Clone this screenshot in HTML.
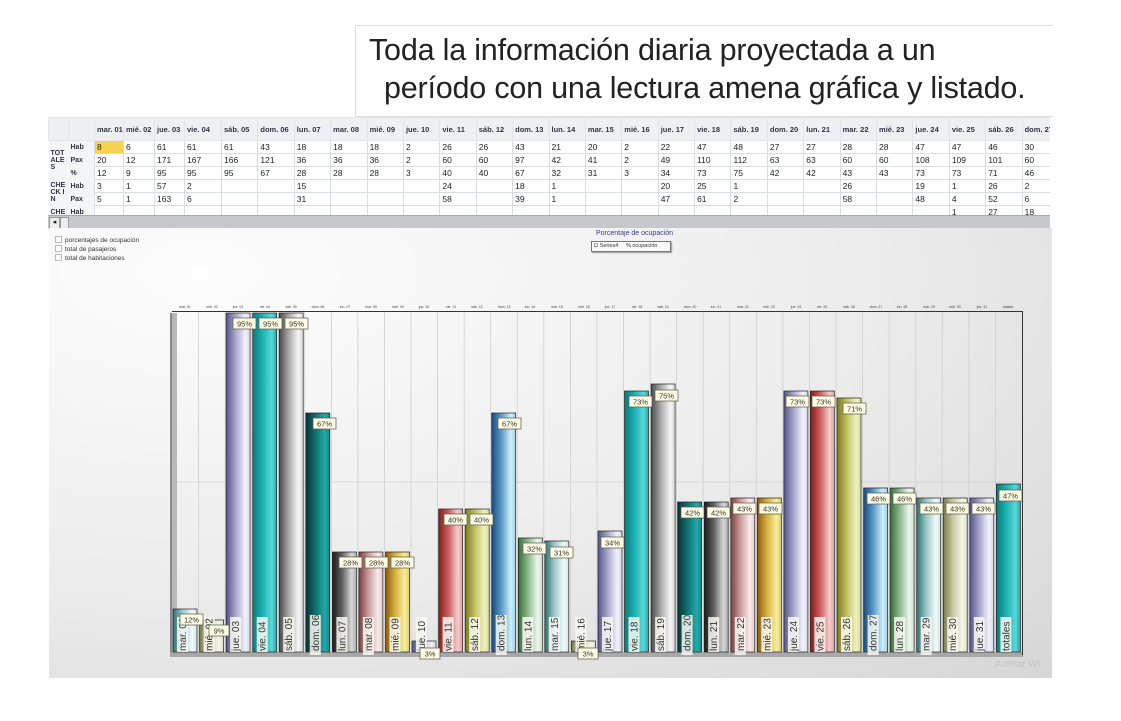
<!DOCTYPE html>
<html><head><meta charset="utf-8"><style>
body{margin:0;width:1121px;height:721px;background:#fff;position:relative;overflow:hidden;font-family:"Liberation Sans",sans-serif}
.hd{position:absolute;left:355px;top:25px;width:697px;height:90px;border:1px solid #ddd;border-right:none;background:#fff}
.hd div{position:absolute;font-family:"Liberation Sans",sans-serif;font-size:30.5px;color:#222;white-space:nowrap;letter-spacing:-0.2px}
.tb{position:absolute;left:48px;top:117px;width:1002px;height:98px;overflow:hidden;background:#fff}
table{border-collapse:collapse;table-layout:fixed;font-size:8.5px;color:#222;width:1010px}
td{border:1px solid #d8dde3;height:12px;padding:0 0 0 2px;white-space:nowrap;overflow:hidden}
tr.h td{height:22px;background:#eef0f4;font-weight:bold;font-size:7.5px;color:#334;border-color:#e2e5ea}
td.l{font-weight:bold;font-size:7px;color:#334;border:none;background:#f4f5f7;line-height:7px;white-space:normal;word-break:break-all}
.sb{position:absolute;left:48px;top:215px;width:1002px;height:13px;background:#c6c8cc;border-top:1px solid #aaa}
.pn{position:absolute;left:49px;top:228px;width:1003px;height:450px;background:radial-gradient(ellipse at 15% 10%,#fdfdfd 0%,#ececec 55%,#d6d6d6 100%)}
.ck{position:absolute;left:55px;font-size:6.5px;color:#333}
.ck i{display:inline-block;width:5px;height:5px;border:1px solid #bbb;background:#fff;margin-right:3px;vertical-align:-1px}
</style></head><body>
<div class="hd"><div style="left:13px;top:7px">Toda la información diaria proyectada a un</div><div style="left:28px;top:45px">período con una lectura amena gráfica y listado.</div></div>
<div class="tb"><table>
<colgroup><col style="width:20px"><col style="width:26px"><col style="width:29px"><col style="width:31px"><col style="width:30px"><col style="width:37px"><col span="23" style="width:36.4px"></colgroup>
<tr class="h"><td></td><td></td><td>mar. 01</td><td>mié. 02</td><td>jue. 03</td><td>vie. 04</td><td>sáb. 05</td><td>dom. 06</td><td>lun. 07</td><td>mar. 08</td><td>mié. 09</td><td>jue. 10</td><td>vie. 11</td><td>sáb. 12</td><td>dom. 13</td><td>lun. 14</td><td>mar. 15</td><td>mié. 16</td><td>jue. 17</td><td>vie. 18</td><td>sáb. 19</td><td>dom. 20</td><td>lun. 21</td><td>mar. 22</td><td>mié. 23</td><td>jue. 24</td><td>vie. 25</td><td>sáb. 26</td><td>dom. 27</td></tr>
<tr><td class="l" rowspan="3">TOT ALE S</td><td class="l">Hab</td><td style="background:#f7d250">8</td><td>6</td><td>61</td><td>61</td><td>61</td><td>43</td><td>18</td><td>18</td><td>18</td><td>2</td><td>26</td><td>26</td><td>43</td><td>21</td><td>20</td><td>2</td><td>22</td><td>47</td><td>48</td><td>27</td><td>27</td><td>28</td><td>28</td><td>47</td><td>47</td><td>46</td><td>30</td></tr>
<tr><td class="l">Pax</td><td>20</td><td>12</td><td>171</td><td>167</td><td>166</td><td>121</td><td>36</td><td>36</td><td>36</td><td>2</td><td>60</td><td>60</td><td>97</td><td>42</td><td>41</td><td>2</td><td>49</td><td>110</td><td>112</td><td>63</td><td>63</td><td>60</td><td>60</td><td>108</td><td>109</td><td>101</td><td>60</td></tr>
<tr><td class="l">%</td><td>12</td><td>9</td><td>95</td><td>95</td><td>95</td><td>67</td><td>28</td><td>28</td><td>28</td><td>3</td><td>40</td><td>40</td><td>67</td><td>32</td><td>31</td><td>3</td><td>34</td><td>73</td><td>75</td><td>42</td><td>42</td><td>43</td><td>43</td><td>73</td><td>73</td><td>71</td><td>46</td></tr>
<tr><td class="l" rowspan="2">CHE CK IN</td><td class="l">Hab</td><td>3</td><td>1</td><td>57</td><td>2</td><td></td><td></td><td>15</td><td></td><td></td><td></td><td>24</td><td></td><td>18</td><td>1</td><td></td><td></td><td>20</td><td>25</td><td>1</td><td></td><td></td><td>26</td><td></td><td>19</td><td>1</td><td>26</td><td>2</td></tr>
<tr><td class="l">Pax</td><td>5</td><td>1</td><td>163</td><td>6</td><td></td><td></td><td>31</td><td></td><td></td><td></td><td>58</td><td></td><td>39</td><td>1</td><td></td><td></td><td>47</td><td>61</td><td>2</td><td></td><td></td><td>58</td><td></td><td>48</td><td>4</td><td>52</td><td>6</td></tr>
<tr><td class="l">CHE</td><td class="l">Hab</td><td></td><td></td><td></td><td></td><td></td><td></td><td></td><td></td><td></td><td></td><td></td><td></td><td></td><td></td><td></td><td></td><td></td><td></td><td></td><td></td><td></td><td></td><td></td><td></td><td>1</td><td>27</td><td>18</td></tr>
</table></div>
<div class="sb"><span style="position:absolute;left:1px;top:1px;width:9px;height:10px;background:#eee;border:1px solid #999;font-size:7px;line-height:10px;text-align:center">◂</span><span style="position:absolute;left:12px;top:1px;width:7px;height:10px;background:#eee;border:1px solid #999"></span></div>
<div class="pn"></div>
<div class="ck" style="top:236px"><i></i>porcentajes de ocupación</div>
<div class="ck" style="top:245px"><i></i>total de pasajeros</div>
<div class="ck" style="top:254px"><i></i>total de habitaciones</div>
<div style="position:absolute;left:596px;top:230px;font-size:7px;color:#3a3a9a">Porcentaje de ocupación</div>
<div style="position:absolute;left:591px;top:241px;width:78px;height:9px;border:1px solid #777;background:#fafafa;font-size:5.5px;color:#333;line-height:9px;box-shadow:1px 1px 1px #999">&nbsp;⊡ Series4 &nbsp;&nbsp;&nbsp;&nbsp;% ocupación</div>
<svg style="position:absolute;left:0;top:0" width="1121" height="721">
<defs>
<linearGradient id="c0"><stop offset="0" stop-color="#2f6f70"/><stop offset=".4" stop-color="#9cc8c8"/><stop offset=".8" stop-color="#f2f9f9"/><stop offset="1" stop-color="#cfe6e6"/></linearGradient>
<linearGradient id="c1"><stop offset="0" stop-color="#7a7a50"/><stop offset=".4" stop-color="#c8c8a0"/><stop offset=".8" stop-color="#f6f6e6"/><stop offset="1" stop-color="#deded0"/></linearGradient>
<linearGradient id="c2"><stop offset="0" stop-color="#55558a"/><stop offset=".4" stop-color="#a6a6cc"/><stop offset=".8" stop-color="#f2f2fa"/><stop offset="1" stop-color="#d6d6ea"/></linearGradient>
<linearGradient id="c3"><stop offset="0" stop-color="#0a7a7a"/><stop offset=".4" stop-color="#1ab0b0"/><stop offset=".8" stop-color="#5ad8d8"/><stop offset="1" stop-color="#22a8a8"/></linearGradient>
<linearGradient id="c4"><stop offset="0" stop-color="#4a4a4a"/><stop offset=".4" stop-color="#a8a8a8"/><stop offset=".8" stop-color="#f6f6f6"/><stop offset="1" stop-color="#d6d6d6"/></linearGradient>
<linearGradient id="c5"><stop offset="0" stop-color="#0a3030"/><stop offset=".4" stop-color="#107070"/><stop offset=".8" stop-color="#22aaaa"/><stop offset="1" stop-color="#188888"/></linearGradient>
<linearGradient id="c6"><stop offset="0" stop-color="#1a1a1a"/><stop offset=".4" stop-color="#606060"/><stop offset=".8" stop-color="#d8d8d8"/><stop offset="1" stop-color="#aaaaaa"/></linearGradient>
<linearGradient id="c7"><stop offset="0" stop-color="#7a4040"/><stop offset=".4" stop-color="#cc9a9a"/><stop offset=".8" stop-color="#f8ecec"/><stop offset="1" stop-color="#e0c8c8"/></linearGradient>
<linearGradient id="c8"><stop offset="0" stop-color="#8a5a10"/><stop offset=".4" stop-color="#d8b040"/><stop offset=".8" stop-color="#f6ee9a"/><stop offset="1" stop-color="#e0cc70"/></linearGradient>
<linearGradient id="c9"><stop offset="0" stop-color="#8a1a1a"/><stop offset=".4" stop-color="#cc5a5a"/><stop offset=".8" stop-color="#f6cccc"/><stop offset="1" stop-color="#e0a0a0"/></linearGradient>
<linearGradient id="c10"><stop offset="0" stop-color="#7a7a20"/><stop offset=".4" stop-color="#c0c060"/><stop offset=".8" stop-color="#f0f0c0"/><stop offset="1" stop-color="#dada98"/></linearGradient>
<linearGradient id="c11"><stop offset="0" stop-color="#1a4a7a"/><stop offset=".4" stop-color="#5a9ac8"/><stop offset=".8" stop-color="#cdeefa"/><stop offset="1" stop-color="#9fd0e6"/></linearGradient>
<linearGradient id="c12"><stop offset="0" stop-color="#3a6a3a"/><stop offset=".4" stop-color="#8ab88a"/><stop offset=".8" stop-color="#eef6ee"/><stop offset="1" stop-color="#cfe3cf"/></linearGradient>
</defs>
<g stroke="#cfcfcf" stroke-width=".8">
<line x1="198.6" y1="312" x2="198.6" y2="652"/><line x1="225.1" y1="312" x2="225.1" y2="652"/><line x1="251.7" y1="312" x2="251.7" y2="652"/><line x1="278.2" y1="312" x2="278.2" y2="652"/><line x1="304.8" y1="312" x2="304.8" y2="652"/><line x1="331.4" y1="312" x2="331.4" y2="652"/><line x1="357.9" y1="312" x2="357.9" y2="652"/><line x1="384.5" y1="312" x2="384.5" y2="652"/><line x1="411" y1="312" x2="411" y2="652"/><line x1="437.6" y1="312" x2="437.6" y2="652"/><line x1="464.2" y1="312" x2="464.2" y2="652"/><line x1="490.7" y1="312" x2="490.7" y2="652"/><line x1="517.3" y1="312" x2="517.3" y2="652"/><line x1="543.8" y1="312" x2="543.8" y2="652"/><line x1="570.4" y1="312" x2="570.4" y2="652"/><line x1="597" y1="312" x2="597" y2="652"/><line x1="623.5" y1="312" x2="623.5" y2="652"/><line x1="650.1" y1="312" x2="650.1" y2="652"/><line x1="676.6" y1="312" x2="676.6" y2="652"/><line x1="703.2" y1="312" x2="703.2" y2="652"/><line x1="729.8" y1="312" x2="729.8" y2="652"/><line x1="756.3" y1="312" x2="756.3" y2="652"/><line x1="782.9" y1="312" x2="782.9" y2="652"/><line x1="809.4" y1="312" x2="809.4" y2="652"/><line x1="836" y1="312" x2="836" y2="652"/><line x1="862.6" y1="312" x2="862.6" y2="652"/><line x1="889.1" y1="312" x2="889.1" y2="652"/><line x1="915.7" y1="312" x2="915.7" y2="652"/><line x1="942.2" y1="312" x2="942.2" y2="652"/><line x1="968.8" y1="312" x2="968.8" y2="652"/><line x1="995.4" y1="312" x2="995.4" y2="652"/>
<line x1="177" y1="482" x2="1022" y2="482"/>
</g>
<rect x="170" y="313" width="7" height="342" fill="#b8b8b8"/><rect x="170" y="313" width="2" height="342" fill="#8a8a8a"/>
<rect x="170" y="652" width="853" height="5" fill="#a8a8a8"/>
<line x1="172" y1="311.5" x2="1023" y2="311.5" stroke="#333" stroke-width="1"/>
<line x1="1022.5" y1="311" x2="1022.5" y2="655" stroke="#333" stroke-width="1"/>
<g font-size="3.5" fill="#444" text-anchor="middle">
<text x="185" y="308">mar. 01</text><text x="212" y="308">mié. 02</text><text x="238" y="308">jue. 03</text><text x="265" y="308">vie. 04</text><text x="291" y="308">sáb. 05</text><text x="318" y="308">dom. 06</text><text x="345" y="308">lun. 07</text><text x="371" y="308">mar. 08</text><text x="398" y="308">mié. 09</text><text x="424" y="308">jue. 10</text><text x="451" y="308">vie. 11</text><text x="477" y="308">sáb. 12</text><text x="504" y="308">dom. 13</text><text x="530" y="308">lun. 14</text><text x="557" y="308">mar. 15</text><text x="584" y="308">mié. 16</text><text x="610" y="308">jue. 17</text><text x="637" y="308">vie. 18</text><text x="663" y="308">sáb. 19</text><text x="690" y="308">dom. 20</text><text x="716" y="308">lun. 21</text><text x="743" y="308">mar. 22</text><text x="769" y="308">mié. 23</text><text x="796" y="308">jue. 24</text><text x="822" y="308">vie. 25</text><text x="849" y="308">sáb. 26</text><text x="876" y="308">dom. 27</text><text x="902" y="308">lun. 28</text><text x="929" y="308">mar. 29</text><text x="955" y="308">mié. 30</text><text x="982" y="308">jue. 31</text><text x="1008" y="308">totales</text>
</g>
<g stroke="#222" stroke-width=".7">
<rect x="173" y="609" width="24" height="43" fill="url(#c0)"/>
<rect x="199.6" y="620" width="24" height="32" fill="url(#c1)"/>
<rect x="226.1" y="313" width="24" height="339" fill="url(#c2)"/>
<rect x="252.7" y="313" width="24" height="339" fill="url(#c3)"/>
<rect x="279.2" y="313" width="24" height="339" fill="url(#c4)"/>
<rect x="305.8" y="413" width="24" height="239" fill="url(#c5)"/>
<rect x="332.4" y="552" width="24" height="100" fill="url(#c6)"/>
<rect x="358.9" y="552" width="24" height="100" fill="url(#c7)"/>
<rect x="385.5" y="552" width="24" height="100" fill="url(#c8)"/>
<rect x="412" y="641" width="24" height="11" fill="url(#c2)"/>
<rect x="438.6" y="509" width="24" height="143" fill="url(#c9)"/>
<rect x="465.2" y="509" width="24" height="143" fill="url(#c10)"/>
<rect x="491.7" y="413" width="24" height="239" fill="url(#c11)"/>
<rect x="518.3" y="538" width="24" height="114" fill="url(#c12)"/>
<rect x="544.8" y="541" width="24" height="111" fill="url(#c0)"/>
<rect x="571.4" y="641" width="24" height="11" fill="url(#c1)"/>
<rect x="598" y="531" width="24" height="121" fill="url(#c2)"/>
<rect x="624.5" y="391" width="24" height="261" fill="url(#c3)"/>
<rect x="651.1" y="384" width="24" height="268" fill="url(#c4)"/>
<rect x="677.6" y="502" width="24" height="150" fill="url(#c5)"/>
<rect x="704.2" y="502" width="24" height="150" fill="url(#c6)"/>
<rect x="730.8" y="498" width="24" height="154" fill="url(#c7)"/>
<rect x="757.3" y="498" width="24" height="154" fill="url(#c8)"/>
<rect x="783.9" y="391" width="24" height="261" fill="url(#c2)"/>
<rect x="810.4" y="391" width="24" height="261" fill="url(#c9)"/>
<rect x="837" y="398" width="24" height="254" fill="url(#c10)"/>
<rect x="863.6" y="488" width="24" height="164" fill="url(#c11)"/>
<rect x="890.1" y="488" width="24" height="164" fill="url(#c12)"/>
<rect x="916.7" y="498" width="24" height="154" fill="url(#c0)"/>
<rect x="943.2" y="498" width="24" height="154" fill="url(#c1)"/>
<rect x="969.8" y="498" width="24" height="154" fill="url(#c2)"/>
<rect x="996.4" y="484" width="24" height="168" fill="url(#c3)"/>
</g>
<g fill="#fafaf2" opacity=".85">
<rect x="177" y="617" width="11" height="35"/><rect x="203.6" y="617" width="11" height="35"/><rect x="230.1" y="617" width="11" height="35"/><rect x="256.7" y="617" width="11" height="35"/><rect x="283.2" y="617" width="11" height="35"/><rect x="309.8" y="615" width="11" height="40"/><rect x="336.4" y="617" width="11" height="35"/><rect x="362.9" y="617" width="11" height="38"/><rect x="389.5" y="617" width="11" height="35"/><rect x="416" y="617" width="11" height="35"/><rect x="442.6" y="617" width="11" height="35"/><rect x="469.2" y="617" width="11" height="35"/><rect x="495.7" y="615" width="11" height="40"/><rect x="522.3" y="617" width="11" height="35"/><rect x="548.8" y="617" width="11" height="35"/><rect x="575.4" y="617" width="11" height="35"/><rect x="602" y="617" width="11" height="35"/><rect x="628.5" y="617" width="11" height="35"/><rect x="655.1" y="617" width="11" height="35"/><rect x="681.6" y="615" width="11" height="40"/><rect x="708.2" y="617" width="11" height="35"/><rect x="734.8" y="617" width="11" height="38"/><rect x="761.3" y="617" width="11" height="35"/><rect x="787.9" y="617" width="11" height="35"/><rect x="814.4" y="617" width="11" height="35"/><rect x="841" y="617" width="11" height="35"/><rect x="867.6" y="615" width="11" height="40"/><rect x="894.1" y="617" width="11" height="35"/><rect x="920.7" y="617" width="11" height="38"/><rect x="947.2" y="617" width="11" height="35"/><rect x="973.8" y="617" width="11" height="35"/><rect x="1000.4" y="617" width="11" height="35"/>
</g>
<g font-size="10" fill="#333">
<text transform="translate(186,651) rotate(-90)">mar. 01</text><text transform="translate(212.6,651) rotate(-90)">mié. 02</text><text transform="translate(239.1,651) rotate(-90)">jue. 03</text><text transform="translate(265.7,651) rotate(-90)">vie. 04</text><text transform="translate(292.2,651) rotate(-90)">sáb. 05</text><text transform="translate(318.8,651) rotate(-90)">dom. 06</text><text transform="translate(345.4,651) rotate(-90)">lun. 07</text><text transform="translate(371.9,651) rotate(-90)">mar. 08</text><text transform="translate(398.5,651) rotate(-90)">mié. 09</text><text transform="translate(425,651) rotate(-90)">jue. 10</text><text transform="translate(451.6,651) rotate(-90)">vie. 11</text><text transform="translate(478.2,651) rotate(-90)">sáb. 12</text><text transform="translate(504.7,651) rotate(-90)">dom. 13</text><text transform="translate(531.3,651) rotate(-90)">lun. 14</text><text transform="translate(557.8,651) rotate(-90)">mar. 15</text><text transform="translate(584.4,651) rotate(-90)">mié. 16</text><text transform="translate(611,651) rotate(-90)">jue. 17</text><text transform="translate(637.5,651) rotate(-90)">vie. 18</text><text transform="translate(664.1,651) rotate(-90)">sáb. 19</text><text transform="translate(690.6,651) rotate(-90)">dom. 20</text><text transform="translate(717.2,651) rotate(-90)">lun. 21</text><text transform="translate(743.8,651) rotate(-90)">mar. 22</text><text transform="translate(770.3,651) rotate(-90)">mié. 23</text><text transform="translate(796.9,651) rotate(-90)">jue. 24</text><text transform="translate(823.4,651) rotate(-90)">vie. 25</text><text transform="translate(850,651) rotate(-90)">sáb. 26</text><text transform="translate(876.6,651) rotate(-90)">dom. 27</text><text transform="translate(903.1,651) rotate(-90)">lun. 28</text><text transform="translate(929.7,651) rotate(-90)">mar. 29</text><text transform="translate(956.2,651) rotate(-90)">mié. 30</text><text transform="translate(982.8,651) rotate(-90)">jue. 31</text><text transform="translate(1009.4,651) rotate(-90)">totales</text>
</g>
<g fill="#fffbe2" stroke="#555" stroke-width=".7">
<rect x="180" y="614" width="23" height="11"/><rect x="209" y="625" width="20" height="11"/>
<rect x="233" y="318" width="23" height="11"/><rect x="259" y="318" width="23" height="11"/><rect x="285" y="318" width="23" height="11"/><rect x="313" y="418" width="23" height="11"/>
<rect x="339" y="557" width="23" height="11"/><rect x="365" y="557" width="23" height="11"/><rect x="391" y="557" width="23" height="11"/><rect x="420" y="648" width="20" height="11"/>
<rect x="444" y="514" width="23" height="11"/><rect x="470" y="514" width="23" height="11"/><rect x="498" y="418" width="23" height="11"/><rect x="523" y="543" width="23" height="11"/><rect x="550" y="547" width="23" height="11"/><rect x="578" y="648" width="20" height="11"/>
<rect x="601" y="537" width="23" height="11"/><rect x="629" y="396" width="23" height="11"/><rect x="655" y="390" width="23" height="11"/><rect x="681" y="507" width="23" height="11"/><rect x="707" y="507" width="23" height="11"/><rect x="733" y="503" width="23" height="11"/><rect x="759" y="503" width="23" height="11"/>
<rect x="786" y="396" width="23" height="11"/><rect x="812" y="396" width="23" height="11"/><rect x="843" y="403" width="23" height="11"/><rect x="867" y="493" width="23" height="11"/><rect x="893" y="493" width="23" height="11"/><rect x="920" y="503" width="23" height="11"/><rect x="946" y="503" width="23" height="11"/><rect x="972" y="503" width="23" height="11"/><rect x="999" y="490" width="23" height="11"/>
</g>
<g font-size="7.5" fill="#333" text-anchor="middle">
<text x="191.5" y="622.5">12%</text><text x="219" y="633.5">9%</text>
<text x="244.5" y="326.5">95%</text><text x="270.5" y="326.5">95%</text><text x="296.5" y="326.5">95%</text><text x="324.5" y="426.5">67%</text>
<text x="350.5" y="565.5">28%</text><text x="376.5" y="565.5">28%</text><text x="402.5" y="565.5">28%</text><text x="430" y="656.5">3%</text>
<text x="455.5" y="522.5">40%</text><text x="481.5" y="522.5">40%</text><text x="509.5" y="426.5">67%</text><text x="534.5" y="551.5">32%</text><text x="561.5" y="555.5">31%</text><text x="588" y="656.5">3%</text>
<text x="612.5" y="545.5">34%</text><text x="640.5" y="404.5">73%</text><text x="666.5" y="398.5">75%</text><text x="692.5" y="515.5">42%</text><text x="718.5" y="515.5">42%</text><text x="744.5" y="511.5">43%</text><text x="770.5" y="511.5">43%</text>
<text x="797.5" y="404.5">73%</text><text x="823.5" y="404.5">73%</text><text x="854.5" y="411.5">71%</text><text x="878.5" y="501.5">46%</text><text x="904.5" y="501.5">46%</text><text x="931.5" y="511.5">43%</text><text x="957.5" y="511.5">43%</text><text x="983.5" y="511.5">43%</text><text x="1010.5" y="498.5">47%</text>
</g>
<text x="995" y="667" font-size="10" fill="#c4c4c4">Activar Wi</text>
</svg>
</body></html>
